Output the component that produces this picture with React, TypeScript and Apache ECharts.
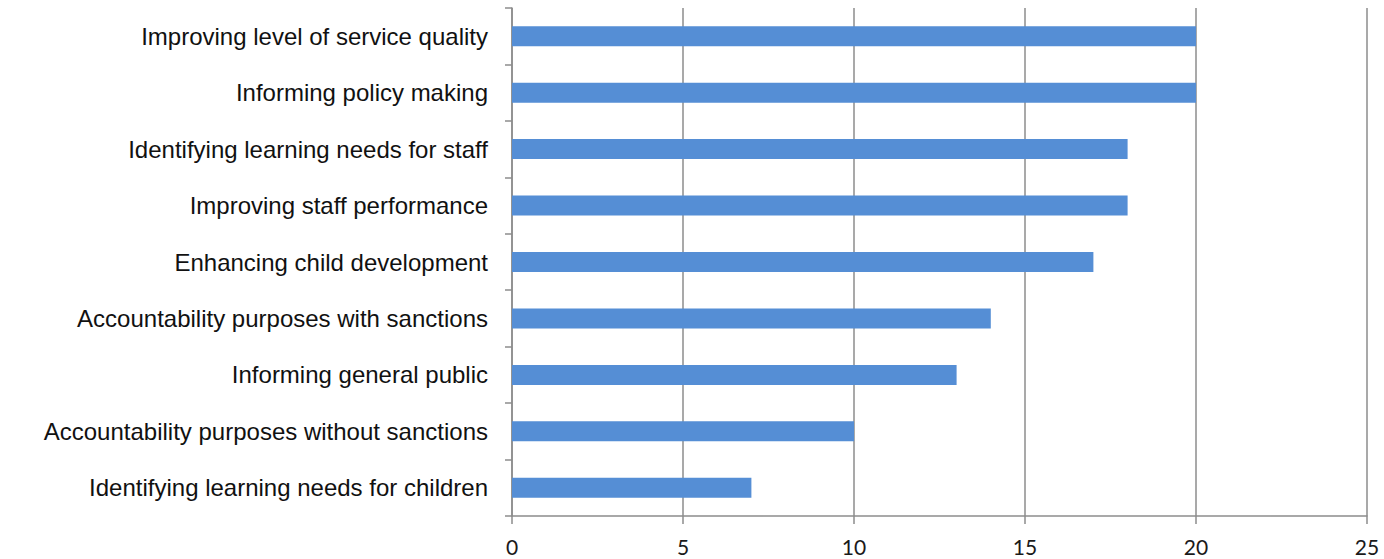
import React, { useEffect, useRef } from "react";
import * as echarts from "echarts";

const categories = [
  "Improving level of service quality",
  "Informing policy making",
  "Identifying learning needs for staff",
  "Improving staff performance",
  "Enhancing child development",
  "Accountability purposes with sanctions",
  "Informing general public",
  "Accountability purposes without sanctions",
  "Identifying learning needs for children",
];
const values = [20, 20, 18, 18, 17, 14, 13, 10, 7];
const xMin = 0;
const xMax = 25;
const xInterval = 5;

export default function App() {
  const ref = useRef<HTMLDivElement>(null);
  useEffect(() => {
    if (!ref.current) return;
    const chart = echarts.init(ref.current, null, { renderer: "svg" });
    chart.setOption({
      animation: false,
      backgroundColor: "#ffffff",
      grid: { left: 512, right: 17, top: 8, bottom: 43, containLabel: false },
      xAxis: {
        type: "value",
        min: xMin,
        max: xMax,
        interval: xInterval,
        axisLine: { show: true, lineStyle: { color: "#8c8c8c", width: 1.5 } },
        axisTick: { show: true, length: 8, lineStyle: { color: "#8c8c8c", width: 1.5 } },
        splitLine: { show: true, lineStyle: { color: "#8c8c8c", width: 1.5 } },
        axisLabel: {
          margin: 20,
          fontFamily: "Lato, 'Open Sans', sans-serif",
          fontSize: 21,
          color: "#1a1a1a",
        },
      },
      yAxis: {
        type: "category",
        inverse: true,
        data: categories,
        axisLine: { show: true, lineStyle: { color: "#8c8c8c", width: 1.5 } },
        axisTick: { show: true, length: 7, lineStyle: { color: "#8c8c8c", width: 1.5 } },
        axisLabel: {
          margin: 24,
          fontFamily: "'Liberation Sans', Arial, sans-serif",
          fontSize: 24,
          color: "#111111",
        },
      },
      series: [
        {
          type: "bar",
          data: values,
          barWidth: 20,
          itemStyle: { color: "#558ed5" },
        },
      ],
    });
    return () => chart.dispose();
  }, []);
  return <div ref={ref} style={{ width: 1384, height: 559, position: "absolute", left: 0, top: 0 }} />;
}
